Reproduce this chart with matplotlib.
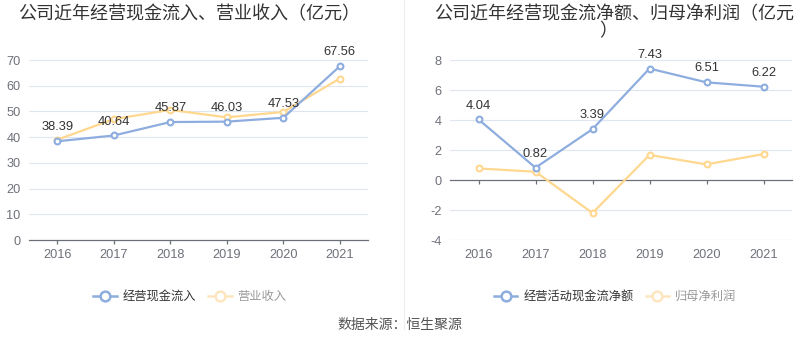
import matplotlib
matplotlib.use("Agg")
import matplotlib.pyplot as plt
from matplotlib.lines import Line2D

plt.rcParams['font.family'] = ['Liberation Sans', 'Noto Sans CJK SC', 'DejaVu Sans']
plt.rcParams['axes.unicode_minus'] = False

years = ['2016', '2017', '2018', '2019', '2020', '2021']
cash_in = [38.39, 40.64, 45.87, 46.03, 47.53, 67.56]
revenue = [39.0, 47.0, 50.6, 47.7, 49.8, 62.8]
cash_net = [4.04, 0.82, 3.39, 7.43, 6.51, 6.22]
net_profit = [0.77, 0.55, -2.2, 1.67, 1.04, 1.73]

blue = '#8eaddf'
yellow = '#ffd78f'
grid_c = '#e0e6f1'
axis_c = '#6e7079'
text_c = '#333333'

fig = plt.figure(figsize=(8, 3.58), dpi=100)
ax1 = fig.add_axes([0.03625, 0.3296, 0.4238, 0.5028])
ax2 = fig.add_axes([0.5625, 0.3296, 0.4275, 0.5028])

x = list(range(len(years)))


def style(ax, ylim, yticks):
    ax.set_xlim(-0.5, len(years) - 0.5)
    ax.set_ylim(*ylim)
    ax.set_yticks(yticks)
    for t in yticks:
        if t != 0:
            ax.axhline(t, color=grid_c, lw=0.8, zorder=0)
    for s in ['top', 'right', 'left']:
        ax.spines[s].set_visible(False)
    ax.spines['bottom'].set_color(axis_c)
    ax.spines['bottom'].set_linewidth(0.9)
    ax.spines['bottom'].set_zorder(1)
    ax.tick_params(axis='y', length=0, pad=6, labelsize=9.2, labelcolor=axis_c)
    ax.tick_params(axis='x', length=3, width=0.9, color=axis_c, pad=3.5,
                   labelsize=9.2, labelcolor=axis_c)
    ax.set_xticks(x)


def draw(ax, vals, color, labels):
    ax.plot(x, vals, color=color, lw=1.6, marker='o', ms=4.2, mfc='white',
            mec=color, mew=1.5, zorder=3)
    if labels:
        for xi, v in zip(x, vals):
            ax.annotate(f'{v:.2f}', (xi, v), xytext=(0, 10), textcoords='offset points',
                        ha='center', va='center', fontsize=9.3, color=text_c, zorder=4)


# left chart
style(ax1, (0, 70), list(range(0, 71, 10)))
ax1.set_xticklabels(years)
draw(ax1, revenue, yellow, False)
draw(ax1, cash_in, blue, True)

# right chart
style(ax2, (-4, 8), [-4, -2, 0, 2, 4, 6, 8])
ax2.axhline(-4, color=grid_c, lw=0.8, zorder=0)
ax2.spines['bottom'].set_position(('data', 0))
ax2.tick_params(axis='x', labelbottom=False)
sec = ax2.secondary_xaxis('bottom')
sec.spines['bottom'].set_visible(False)
sec.set_xticks(x)
sec.set_xticklabels(years)
sec.tick_params(axis='x', length=0, pad=6.5, labelsize=9.2, labelcolor=axis_c)
draw(ax2, net_profit, yellow, False)
draw(ax2, cash_net, blue, True)

# titles
fig.text(0.0225, 0.96, '公司近年经营现金流入、营业收入（亿元）', fontsize=13,
         color=text_c, ha='left', va='center')
fig.text(0.767, 0.96, '公司近年经营现金流净额、归母净利润（亿元', fontsize=13,
         color=text_c, ha='center', va='center')
fig.text(0.76, 0.912, '）', fontsize=13, color=text_c, ha='center', va='center')

# divider
fig.add_artist(Line2D([0.505, 0.505], [0.08, 1.0], color='#eeeeee', lw=0.8))


def legend(names, cx):
    hs = [Line2D([0], [0], color=blue, lw=1.8, marker='o', ms=7, mfc='white',
                 mec=blue, mew=1.8),
          Line2D([0], [0], color='#fde6bf', lw=1.8, marker='o', ms=7, mfc='white',
                 mec='#fde6bf', mew=1.8)]
    lg = fig.legend(hs, names, loc='center', bbox_to_anchor=(cx, 0.17), ncol=2,
                    frameon=False, fontsize=8.8, handlelength=1.9, handletextpad=0.5,
                    columnspacing=1.0, borderpad=0)
    lg.get_texts()[0].set_color(text_c)
    lg.get_texts()[1].set_color('#999999')


legend(['经营现金流入', '营业收入'], 0.2375)
legend(['经营活动现金流净额', '归母净利润'], 0.769)

fig.text(0.5, 0.092, '数据来源：恒生聚源', fontsize=10, color='#555555',
         ha='center', va='center')

fig.savefig('out.png', dpi=100)
